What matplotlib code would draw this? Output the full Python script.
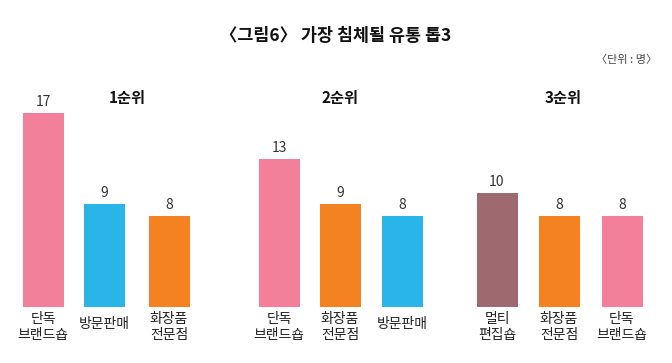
import matplotlib.pyplot as plt

plt.rcParams['font.family'] = ['Noto Sans CJK KR', 'DejaVu Sans']

# data
groups = ['1순위', '2순위', '3순위']
cats = [['단독\n브랜드숍', '방문판매', '화장품\n전문점'],
        ['단독\n브랜드숍', '화장품\n전문점', '방문판매'],
        ['멀티\n편집숍', '화장품\n전문점', '단독\n브랜드숍']]
values = [[17, 9, 8],
          [13, 9, 8],
          [10, 8, 8]]

color_map = {'단독\n브랜드숍': '#F2809A', '방문판매': '#29B5E8',
             '화장품\n전문점': '#F58220', '멀티\n편집숍': '#9E6A6F'}

# layout (pixel-like x positions)
group_x = [[43, 104, 169], [279, 340, 402], [497, 559, 622]]
group_title_x = [127, 340, 563]

fig = plt.figure(figsize=(6.72, 3.63), dpi=100)
ax = fig.add_axes([0, 1 - 307 / 363, 1, 227 / 363])
ax.set_xlim(0, 672)
ax.set_ylim(0, 227 / 11.41)
ax.axis('off')

for g in range(3):
    for xp, c, v in zip(group_x[g], cats[g], values[g]):
        ax.bar(xp, v, width=41, color=color_map[c])
        ax.text(xp, v + 0.35, str(v), ha='center', va='bottom',
                fontsize=10, color='#333333', fontweight='light')
        n = c.count('\n')
        ax.text(xp, -0.45 if n else -0.9, c, ha='center', va='top',
                fontsize=10, color='#222222', linespacing=1.2)
    ax.text(group_title_x[g], 18.3, groups[g], ha='center', va='center',
            fontsize=11, fontweight='bold', color='#111111')

fig.text(0.5, 1 - 36 / 363, '〈그림6〉 가장 침체될 유통 톱3', ha='center',
         va='center', fontsize=12.5, fontweight='bold', color='#111111')
fig.text(657 / 672, 1 - 60 / 363, '〈단위 : 명〉', ha='right', va='center',
         fontsize=8, color='#444444')

fig.savefig('out.png', dpi=100)
